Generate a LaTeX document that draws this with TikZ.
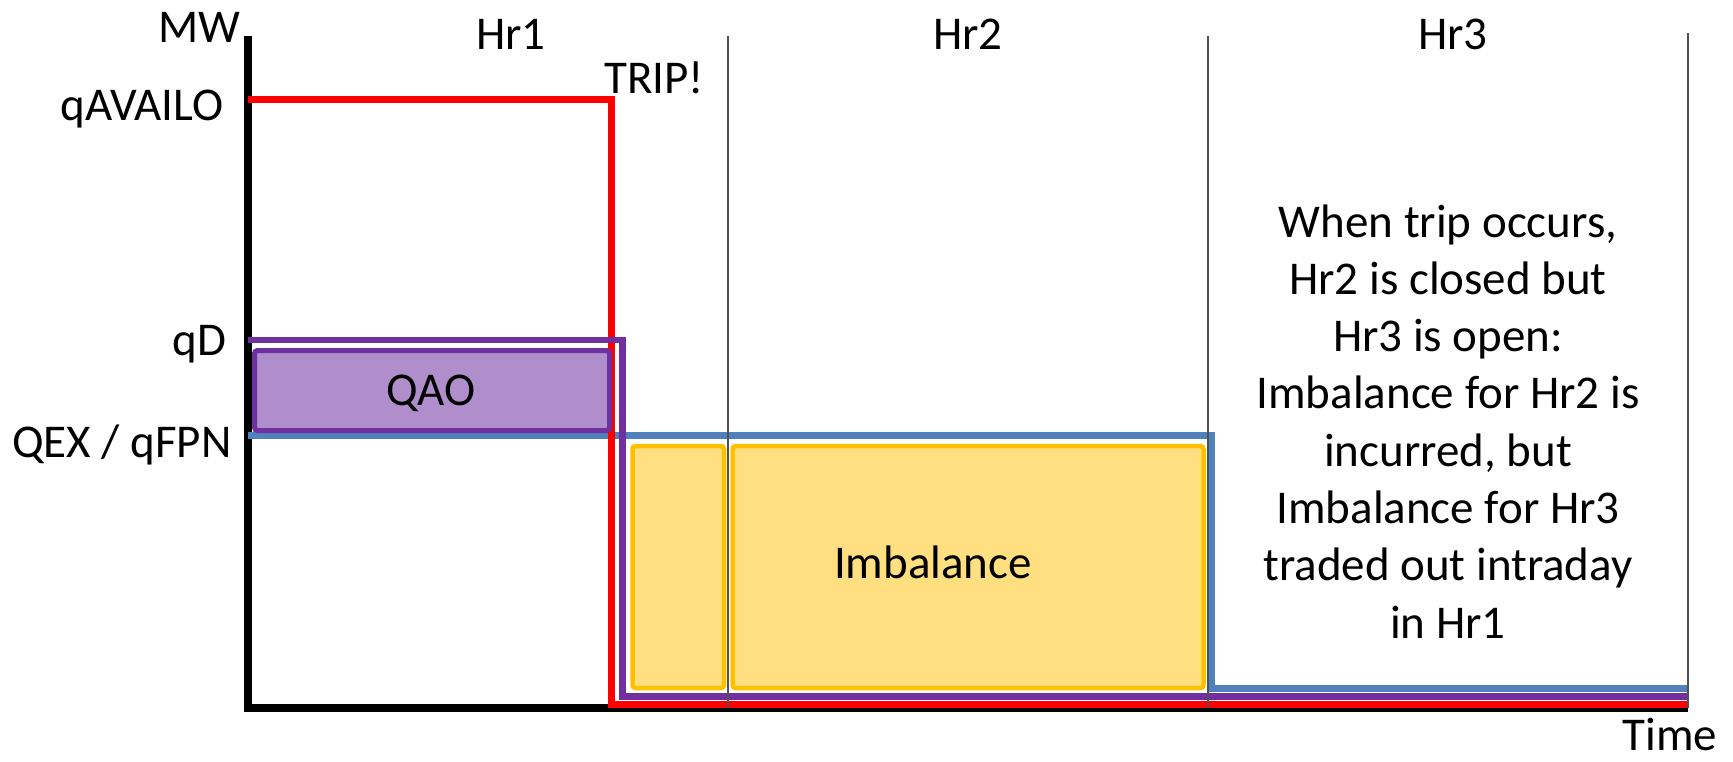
\documentclass[tikz,border=0pt]{standalone}
\usepackage{fontspec}
\setmainfont{Carlito}
\definecolor{cred}{HTML}{FF0000}
\definecolor{cpurple}{HTML}{7030A0}
\definecolor{cblue}{HTML}{4F81BD}
\definecolor{cyellow}{HTML}{FFC000}
\definecolor{cdiv}{HTML}{505050}
\begin{document}
\begin{tikzpicture}[x=0.5pt,y=-0.5pt,
  lbl/.style={inner sep=0pt, font=\fontsize{23.5}{28.65}\selectfont},
  axisline/.style={line width=4pt, black},
  curve/.style={line width=3.5pt},
  divider/.style={line width=1pt, cdiv},
  qaobox/.style={draw=cpurple, line width=2.5pt, fill=cpurple!55!white, rounded corners=1.5pt, inner sep=0pt, outer sep=0pt, anchor=north west},
  imbbox/.style={draw=cyellow, line width=2.25pt, fill=cyellow!50!white, rounded corners=1.5pt, inner sep=0pt, outer sep=0pt, anchor=north west},
]
\useasboundingbox (0,0) rectangle (1733,761);

% axes
\coordinate (ytop) at (248,36);
\coordinate (xend) at (1688,708);
\draw[axisline] (ytop) |- (xend);

% blue QEX / qFPN
\coordinate (b0) at (248,435.5);
\coordinate (b1) at (1211.5,435.5);
\coordinate (b2) at (1211.5,688);
\coordinate (b3) at (1688,688);
\draw[curve, cblue] (b0) -- (b1) -- (b2) -- (b3);

% red qAVAILO
\coordinate (r0) at (248,99.5);
\coordinate (r1) at (611.5,99.5);
\coordinate (r2) at (611.5,704);
\coordinate (r3) at (1688,704);
\draw[curve, cred] (r0) -- (r1) -- (r2) -- (r3);

% purple qD
\coordinate (p0) at (248,340);
\coordinate (p1) at (622.5,340);
\coordinate (p2) at (622.5,696.5);
\coordinate (p3) at (1688,696.5);
\draw[curve, cpurple, line width=3.25pt] (p0) -- (p1) -- (p2) -- (p3);

% QAO box
\node[qaobox, minimum width=177.5pt, minimum height=40pt] (qaob) at (254.5,350.5) {};
\node[lbl, anchor=base] (qao) at (431,405) {QAO};

% Imbalance boxes
\node[imbbox, minimum width=45.75pt, minimum height=121pt] (imb1) at (632.5,446) {};
\node[imbbox, minimum width=235.5pt, minimum height=121pt] (imb2) at (732.5,446) {};
\node[lbl, anchor=base] (imb) at (933,578) {Imbalance};

% hour dividers
\coordinate (d1t) at (728,36);   \coordinate (d1b) at (728,708);
\coordinate (d2t) at (1207.5,36); \coordinate (d2b) at (1207.5,708);
\coordinate (d3t) at (1688,33);  \coordinate (d3b) at (1688,708);
\draw[divider] (d1t) -- (d1b);
\draw[divider] (d2t) -- (d2b);
\draw[divider] (d3t) -- (d3b);

% labels
\node[lbl, anchor=base east] (mw) at (241,42) {MW};
\node[lbl, anchor=base] (hr1) at (511,49) {Hr1};
\node[lbl, anchor=base] (hr2) at (968,49) {Hr2};
\node[lbl, anchor=base] (hr3) at (1453,49) {Hr3};
\node[lbl, anchor=base west] (trip) at (604,93) {TRIP!};
\node[lbl, anchor=base east] (qavail) at (224,120) {qAVAILO};
\node[lbl, anchor=base east] (qd) at (227,355) {qD};
\node[lbl, anchor=base east] (qex) at (232,457) {QEX / qFPN};
\node[lbl, anchor=base west] (time) at (1622,750) {Time};

\foreach \t [count=\i from 0] in {{When trip occurs,},{Hr2 is closed but},{Hr3 is open:},{Imbalance for Hr2 is},{incurred, but},{Imbalance for Hr3},{traded out intraday},{in Hr1}}
  \node[lbl, anchor=base] (note\i) at (1448,237+57.3*\i) {\t};
\end{tikzpicture}
\end{document}
